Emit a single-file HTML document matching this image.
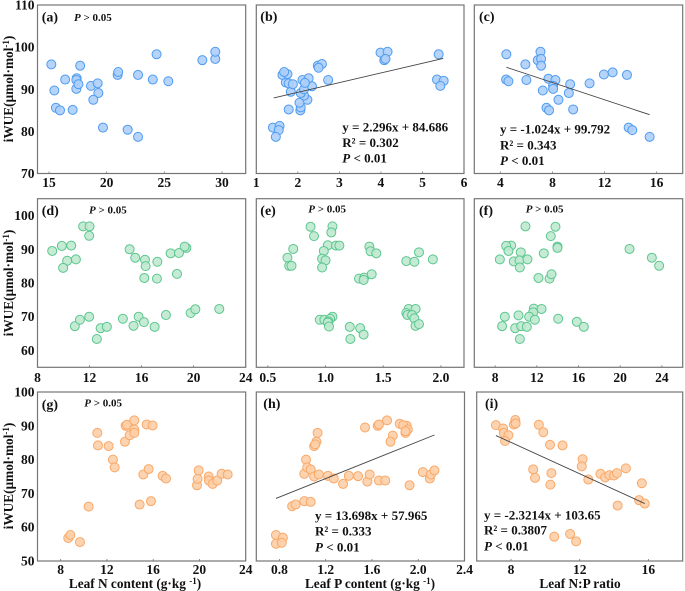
<!DOCTYPE html>
<html><head><meta charset="utf-8">
<style>
html,body{margin:0;padding:0;background:#fff;}
svg{display:block;font-family:"Liberation Serif",serif;font-weight:bold;fill:#111;}
.t{font-size:13.5px;}
.p{font-size:11px;}
.l{font-size:14px;}
.e{font-size:13px;}
.a{font-size:13.3px;}
.i{font-style:italic;}
</style></head>
<body>
<svg id="fig" width="685" height="591" viewBox="0 0 685 591" xmlns="http://www.w3.org/2000/svg">
<rect width="685" height="591" fill="#fff"/>
<g id="plots"></g>

<text class="l" x="41.7" y="21.5">(a)</text>
<text class="l" x="260.3" y="21">(b)</text>
<text class="l" x="479" y="21">(c)</text>
<text class="l" x="41.7" y="215">(d)</text>
<text class="l" x="260.3" y="215">(e)</text>
<text class="l" x="479" y="215">(f)</text>
<text class="l" x="41.7" y="409">(g)</text>
<text class="l" x="263.3" y="408">(h)</text>
<text class="l" x="485" y="408">(i)</text>

<text class="p" x="74" y="21"><tspan class="i">P</tspan> &gt; 0.05</text>
<text class="p" x="89" y="213.3"><tspan class="i">P</tspan> &gt; 0.05</text>
<text class="p" x="308.3" y="212.7"><tspan class="i">P</tspan> &gt; 0.05</text>
<text class="p" x="525.7" y="212.7"><tspan class="i">P</tspan> &gt; 0.05</text>
<text class="p" x="84.3" y="406.3"><tspan class="i">P</tspan> &gt; 0.05</text>

<g>
<text class="e" x="342.3" y="131.7">y = 2.296x + 84.686</text>
<text class="e" x="342.3" y="147">R² = 0.302</text>
<text class="e" x="342.3" y="162.7"><tspan class="i">P</tspan> &lt; 0.01</text>
</g>
<g>
<text class="e" x="500" y="133.3">y = -1.024x + 99.792</text>
<text class="e" x="500" y="149.3">R² = 0.343</text>
<text class="e" x="500" y="165"><tspan class="i">P</tspan> &lt; 0.01</text>
</g>
<g>
<text class="e" x="315" y="520">y = 13.698x + 57.965</text>
<text class="e" x="315" y="535.3">R² = 0.333</text>
<text class="e" x="315" y="551.3"><tspan class="i">P</tspan> &lt; 0.01</text>
</g>
<g>
<text class="e" x="484" y="519.3">y = -2.3214x + 103.65</text>
<text class="e" x="484" y="534.7">R² = 0.3807</text>
<text class="e" x="484" y="550.7"><tspan class="i">P</tspan> &lt; 0.01</text>
</g>

<text class="a" text-anchor="middle" transform="translate(13,89) rotate(-90)">iWUE(μmol·mol<tspan font-size="9" dy="-4">-1</tspan><tspan dy="4">)</tspan></text>
<text class="a" text-anchor="middle" transform="translate(13,283) rotate(-90)">iWUE(μmol·mol<tspan font-size="9" dy="-4">-1</tspan><tspan dy="4">)</tspan></text>
<text class="a" text-anchor="middle" transform="translate(13,476) rotate(-90)">iWUE(μmol·mol<tspan font-size="9" dy="-4">-1</tspan><tspan dy="4">)</tspan></text>

<text class="a" text-anchor="middle" x="135" y="588">Leaf N content (g·kg <tspan font-size="9" dy="-4">-1</tspan><tspan dy="4">)</tspan></text>
<text class="a" text-anchor="middle" x="370" y="588">Leaf P content (g·kg <tspan font-size="9" dy="-4">-1</tspan><tspan dy="4">)</tspan></text>
<text class="a" text-anchor="middle" x="580" y="588">Leaf N:P ratio</text>
</svg>

<script>
var aX=[15.2,15.46,15.6,15.95,17.05,16.4,17.7,17.4,17.37,17.37,17.55,18.64,19.22,19.28,18.84,19.68,20.95,21.0,21.82,22.72,22.72,24.0,24.33,25.35,28.3,29.42,29.42];
var aY=[95.9,89.7,85.6,85.0,85.1,92.3,95.6,92.6,92.2,90.1,91.2,90.8,91.4,89.1,87.5,80.9,93.4,94.1,80.4,93.4,78.7,92.3,98.3,91.9,96.9,97.2,98.9];
var bX=[1.40,1.56,1.54,1.47,1.78,2.06,2.07,2.04,2.23,2.15,1.83,2.07,2.15,2.34,1.71,1.78,1.88,1.63,1.75,1.67,2.11,2.26,2.17,2.73,2.48,2.58,2.50,3.99,4.16,4.08,4.11,5.39,5.35,5.51,5.43];
var bY=[80.9,81.3,80.3,78.7,85.2,85.0,85.7,86.8,87.5,88.5,89.4,89.1,90.0,90.7,91.6,91.4,91.2,93.4,93.6,94.1,92.2,92.6,91.5,92.2,95.6,96.0,95.1,98.7,98.9,96.9,97.2,98.3,92.3,92.0,90.8];
var cX=[4.46,5.92,6.87,7.08,7.13,7.13,4.44,4.62,6.0,7.69,8.23,7.26,8.05,8.05,9.36,9.26,8.46,7.54,7.74,9.59,10.85,11.95,12.62,13.72,13.85,14.13,15.46];
var cY=[98.3,95.9,96.9,98.9,97.2,95.6,92.3,91.9,92.2,92.5,92.2,89.7,90.8,90.1,91.2,89.1,87.5,85.6,85.0,85.2,91.4,93.5,94.0,93.4,80.9,80.3,78.7];
var dX=[9.13,9.87,10.59,10.28,9.97,10.95,11.51,12,11.97,15.08,15.51,16.26,16.31,16.21,17.21,17.18,18.23,18.87,19.44,19.31,18.72,10.87,11.26,11.97,12.56,12.85,13.33,14.56,15.38,15.77,16.18,17.0,17.87,19.77,20.13,21.97];
var dY=[89.5,91.0,91.1,86.6,84.5,87.0,96.8,96.8,94.0,90.0,87.5,86.9,85.0,81.5,86.3,81.3,88.8,88.9,90.4,90.8,82.7,67.2,69.1,70.0,63.4,66.6,67.0,69.4,67.3,70.0,68.4,67.0,70.5,71.1,72.2,72.3];
var eX=[0.87,0.90,1.06,1.05,0.72,0.67,0.685,0.705,1.02,0.985,1.09,1.12,0.97,1.0,0.97,1.38,1.39,1.44,1.29,1.335,1.33,1.40,1.70,1.77,1.81,1.93,0.95,0.99,1.06,1.04,1.025,1.02,1.03,1.21,1.30,1.33,1.215,1.72,1.78,1.70,1.71,1.75,1.77,1.78,1.81];
var eY=[96.7,93.9,96.8,95.0,90.1,87.5,85.1,85.1,91.2,89.5,91.1,91.1,87.2,86.7,84.6,90.8,89.4,88.8,81.3,81.6,80.9,82.6,86.5,86.3,89.1,87.0,69.1,69.1,70.0,69.4,68.6,68.3,67.1,67.0,66.6,64.7,63.4,72.3,72.3,71.1,70.5,70.5,69.5,67.3,67.8];
var fX=[10.91,13.79,13.34,9.54,9.06,9.28,10.46,8.45,9.79,10.34,11.1,10.37,12.67,13.98,13.98,12.16,13.22,13.41,20.9,23.04,23.74,8.93,10.24,8.67,9.92,10.5,11.04,10.37,11.71,12.45,11.65,11.26,11.81,14.05,15.84,16.51];
var fY=[96.8,96.7,93.9,91.1,91.0,89.5,89.1,87,86.4,86.7,87,84.6,88.8,90.8,90.4,81.5,81.3,82.6,90.1,87.5,85.1,70.0,70.4,67.2,66.6,67.2,67,63.4,72.4,72.3,71.3,70.0,69.1,69.4,68.5,67];
var gX=[8.66,8.84,9.67,10.42,11.17,11.23,12.15,12.52,12.67,13.56,13.62,13.73,13.97,14.37,14.37,14.37,15.44,15.95,14.83,15.81,15.15,15.61,16.82,17.11,19.79,19.84,19.93,20.8,20.82,21.14,21.54,21.92,22.44];
var gY=[56.8,57.7,55.6,66.1,87.9,84.2,84.0,80.0,77.7,85.3,90,90.3,87.2,88.9,87.9,91.6,90.4,90.1,66.7,67.7,75.6,77.2,75.2,74.4,72.4,74.3,76.8,75,73.8,72.8,73.8,75.8,75.6];
var hX=[0.77,0.83,0.77,0.82,0.91,0.94,1.015,1.07,1.015,1.03,1.04,1.07,1.10,1.14,1.22,1.27,1.35,1.40,1.48,1.56,1.58,1.66,1.715,1.925,2.04,2.10,2.11,2.14,1.13,1.12,1.10,1.11,1.54,1.65,1.66,1.73,1.84,1.90,1.87,1.91,1.89,1.89,1.78,1.76];
var hY=[57.7,56.9,55.1,55.4,66.2,66.7,67.7,67.5,75.8,80,77.7,77.1,75,75.6,75.2,74.4,72.8,75.2,75.1,73.5,75.6,73.8,73.8,72.4,76.3,74.4,75.6,76.8,87.9,85.3,84,84.5,89.5,90,90.4,91.6,90.6,90,90.2,88.9,87.9,88.4,87.1,85.3];
var iX=[7.12,7.54,7.58,7.85,7.65,8.25,8.17,8.27,9.62,9.88,10.27,11.0,12.17,12.12,9.29,9.40,10.35,10.29,12.5,13.21,13.48,13.73,14.0,14.17,14.69,15.62,15.46,15.79,14.21,10.52,11.44,11.79];
var iY=[90.2,89.2,87.9,87.2,85.5,91.7,90.4,90.7,90.3,88.1,84.4,84.2,80.1,78,77.1,74.6,76,72.6,74.1,75.8,74.7,75.4,75.3,76,77.4,73,68,67,66.4,57.2,58,55.8];

var ticksA=[15,20,25,30];
var ticksB=[1,2,3,4,5,6];
var ticksC=[4,8,12,16];
var ticksD=[8,12,16,20,24];
var ticksE=["0.5","1.0","1.5","2.0"];
var ticksF=[8,12,16,20,24];
var ticksG=[8,12,16,20,24];
var ticksH=["0.8","1.2","1.6","2.0","2.4"];
var ticksI=[8,12,16];
var ticksRow1=[70,80,90,100,110];
var ticksRow2=[60,70,80,90,100];
var ticksRow3=[50,60,70,80,90,100];

var fitB=[2.296,84.686,1.42,5.5];
var fitC=[-1.024,99.792,4.46,15.46];
var fitH=[13.698,57.965,0.77,2.14];
var fitI=[-2.3214,103.65,7.12,15.79];

var NS='http://www.w3.org/2000/svg';
var root=document.getElementById('plots');
var BLUE={f:'#aecff8',s:'#4e9bf0'};
var GREEN={f:'#bfe9d0',s:'#5cc68e'};
var ORANGE={f:'#fdcfa8',s:'#f8a868'};

function mk(tag,attrs,parent){
  var el=document.createElementNS(NS,tag);
  for(var k in attrs){el.setAttribute(k,attrs[k]);}
  parent.appendChild(el);
  return el;
}
function panel(id,box,xd,yd,xs,ys,col,xticks,yticks,fit,showY,xBase){
  var g=mk('g',{},root);
  
  
  function X(v){return box[0]+(v-xd[0])/(xd[1]-xd[0])*(box[1]-box[0]);}
  function Y(v){return box[3]-(v-yd[0])/(yd[1]-yd[0])*(box[3]-box[2]);}
  var frame=mk('rect',{x:box[0],y:box[2],width:box[1]-box[0],height:box[3]-box[2],fill:'#fff',stroke:'#757575','stroke-width':1.2},g);
  
  
  xticks.forEach(function(t){
    var px=X(parseFloat(t));
    var tk=mk('line',{x1:px,x2:px,y1:box[3],y2:box[3]-2,stroke:'#757575','stroke-width':0.8},g);
    
    
    var lb=mk('text',{x:px,y:xBase,'text-anchor':'middle','class':'t'},g);
    lb.textContent=t;
    
    
  });
  if(showY){
    yticks.forEach(function(t){
      var py=Y(t);
      var lb=mk('text',{x:34.5,y:py+4.5,'text-anchor':'end','class':'t'},g);
      lb.textContent=t;
      
      
    });
  }
  xs.forEach(function(v,i){
    var c=mk('circle',{cx:X(v),cy:Y(ys[i]),r:4.5,fill:col.f,stroke:col.s,'stroke-width':1,'fill-opacity':0.9},g);
    
    
  });
  if(fit){
    var ln=mk('line',{x1:X(fit[2]),y1:Y(fit[0]*fit[2]+fit[1]),x2:X(fit[3]),y2:Y(fit[0]*fit[3]+fit[1]),stroke:'#444','stroke-width':0.9},g);
    
    
  }
}
var R1=[5,173.5],R2=[198.7,367.3],R3=[392,561];
panel('a',[37.5,245.7,R1[0],R1[1]],[14,32.06],[70,110],aX,aY,BLUE,ticksA,ticksRow1,null,true,187);
panel('b',[256.3,464,R1[0],R1[1]],[1,6],[70,110],bX,bY,BLUE,ticksB,[],fitB,false,187);
panel('c',[474.3,682.7,R1[0],R1[1]],[2,18],[70,110],cX,cY,BLUE,ticksC,[],fitC,false,187);
panel('d',[37.5,245.7,R2[0],R2[1]],[8,24],[55,105],dX,dY,GREEN,ticksD,ticksRow2,null,true,382);
panel('e',[256.3,464,R2[0],R2[1]],[0.4,2.2],[55,105],eX,eY,GREEN,ticksE,[],null,false,382);
panel('f',[474.3,682.7,R2[0],R2[1]],[6,26],[55,105],fX,fY,GREEN,ticksF,[],null,false,382);
panel('g',[37.5,245.7,R3[0],R3[1]],[6,24],[50,100],gX,gY,ORANGE,ticksG,ticksRow3,null,true,574);
panel('h',[256.3,464.5,R3[0],R3[1]],[0.6,2.4],[50,100],hX,hY,ORANGE,ticksH,[],fitH,false,574);
panel('i',[476.7,682.7,R3[0],R3[1]],[6,18],[50,100],iX,iY,ORANGE,ticksI,[],fitI,false,574);
</script>
</body></html>
